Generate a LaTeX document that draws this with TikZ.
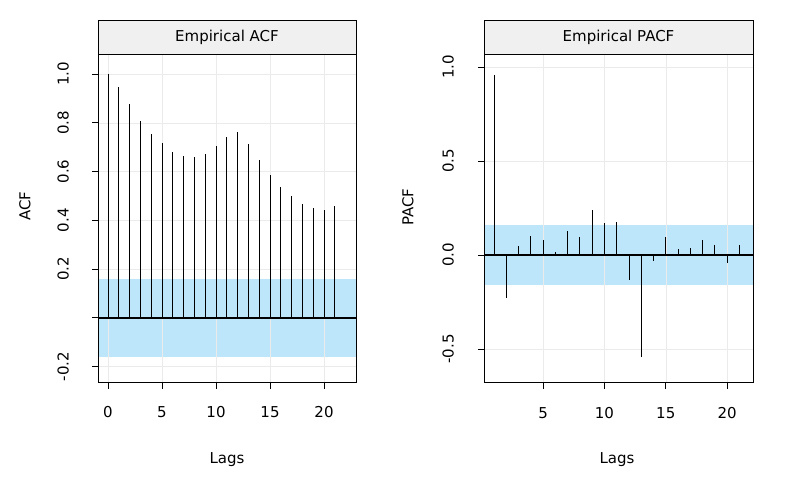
\documentclass[tikz,border=0pt]{standalone}
\usepackage{fontspec}
\setmainfont{DejaVu Sans}
\definecolor{bandblue}{HTML}{BEE6FB}
\definecolor{stripgray}{HTML}{F0F0F0}
\definecolor{gridgray}{HTML}{EBEBEB}
\begin{document}
\begin{tikzpicture}[x=1pt,y=-1pt,font=\fontsize{15}{17}\selectfont,line width=0.9pt]
        \useasboundingbox (0,0) rectangle (799,494);

        % Left panel: ACF
        \begin{scope}[shift={(108,317.75)},x=10.8pt,y=243.75pt]
            \fill [bandblue] (-0.93,-0.16) rectangle (22.96,0.16);
            \foreach \k in {0,5,...,20}
                \draw [gridgray,thin] (\k,-0.264) -- (\k,1.082);
            \foreach \v in {-0.2,0.2,0.4,0.6,0.8,1.0}
                \draw [gridgray,thin] (-0.93,\v) -- (22.96,\v);
            \draw [line width=1.6pt] (-0.93,0) -- (22.96,0);
            \foreach \v [count=\k from 0] in {1.0,0.947,0.877,0.807,0.754,0.717,
                0.680,0.664,0.660,0.672,0.705,0.742,0.762,0.713,0.647,0.585,
                0.536,0.500,0.467,0.450,0.442,0.458}
                \draw (\k,0) -- (\k,\v);
            % Ticks
            \foreach \k in {0,5,...,20} {
                \draw (\k,-0.264) -- ++(0,-7pt);
                \node at (\k,-0.388) {\k};
            }
            \foreach \v/\t in {-0.2/-0.2,0/,0.2/0.2,0.4/0.4,0.6/0.6,0.8/0.8,1.0/1.0} {
                \draw (-0.93,\v) -- ++(-6pt,0);
                \node [rotate=90] at (-4.15,\v) {\t};
            }
        \end{scope}
        \draw (98,54) rectangle (356,382);
        \draw [fill=stripgray] (98,20) rectangle (356,54);
        \node (titleacf) at (227,37) {Empirical ACF};
        \node (ylacf) [rotate=90] at (25,206) {ACF};
        \node (xlacf) at (227,460) {Lags};

        % Right panel: PACF
        \begin{scope}[shift={(481.7,255)},x=12.27pt,y=188pt]
            \fill [bandblue] (0.19,-0.16) rectangle (22.12,0.16);
            \foreach \k in {5,10,...,20}
                \draw [gridgray,thin] (\k,-0.676) -- (\k,1.068);
            \foreach \v in {-0.5,0,0.5,1.0}
                \draw [gridgray,thin] (0.19,\v) -- (22.12,\v);
            \draw [line width=1.6pt] (0.19,0) -- (22.12,0);
            \foreach \v [count=\k from 1] in {0.955,-0.23,0.05,0.10,0.08,0.015,
                0.13,0.095,0.24,0.17,0.175,-0.135,-0.545,-0.03,0.095,0.03,
                0.035,0.08,0.055,-0.045,0.055}
                \draw (\k,0) -- (\k,\v);
            % Ticks
            \foreach \k in {5,10,...,20} {
                \draw (\k,-0.676) -- ++(0,-7pt);
                \node at (\k,-0.84) {\k};
            }
            \foreach \v/\t in {-0.5/-0.5,0/0.0,0.5/0.5,1.0/1.0} {
                \draw (0.19,\v) -- ++(-6pt,0);
                \node [rotate=90] at (-2.73,\v) {\t};
            }
        \end{scope}
        \draw (484,54) rectangle (753,382);
        \draw [fill=stripgray] (484,20) rectangle (753,54);
        \node (titlepacf) at (618.5,37) {Empirical PACF};
        \node (ylpacf) [rotate=90] at (408,207) {PACF};
        \node (xlpacf) at (617,460) {Lags};
\end{tikzpicture}
\end{document}
